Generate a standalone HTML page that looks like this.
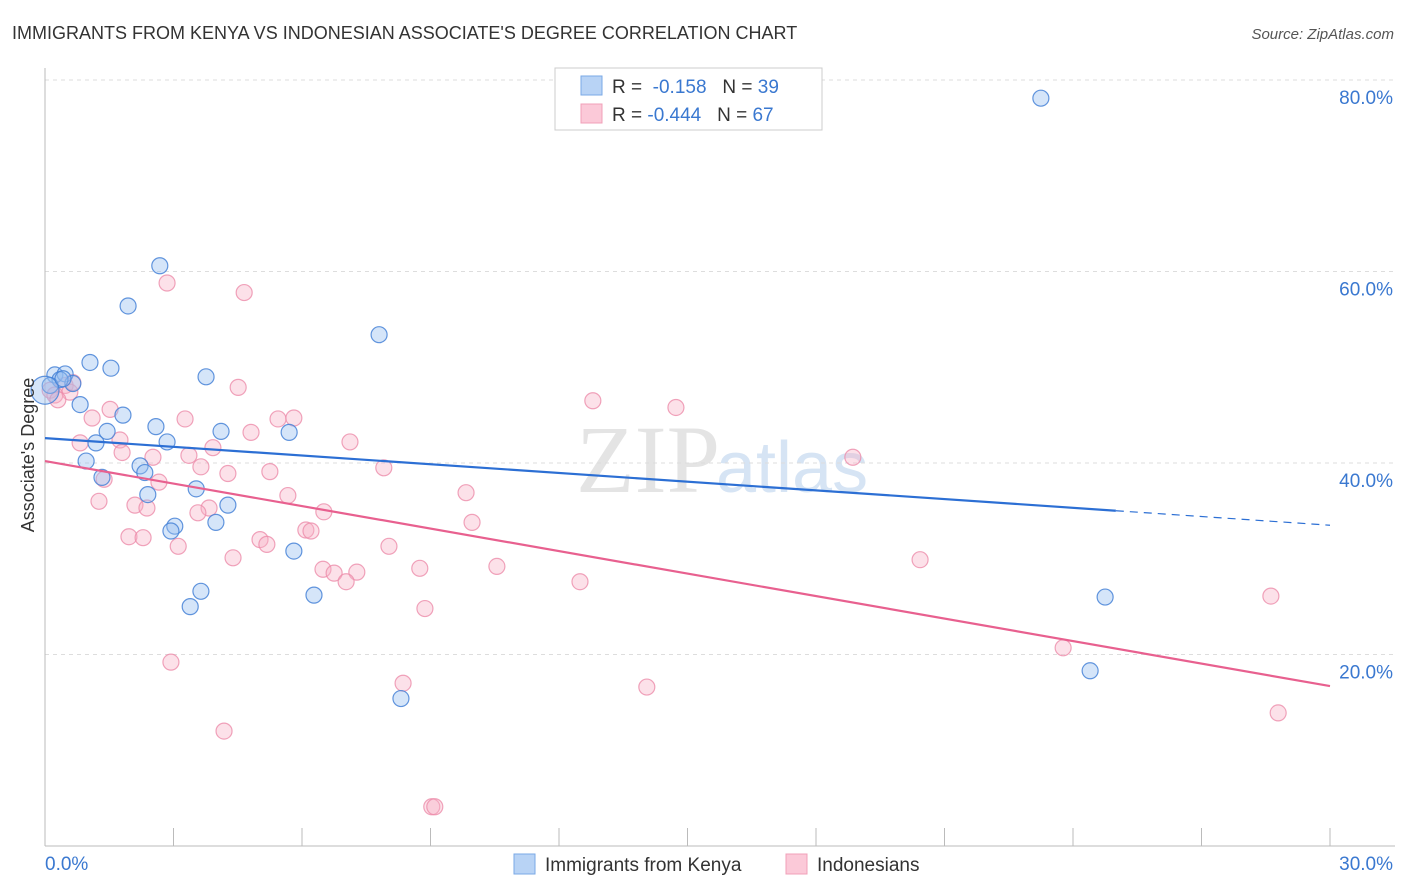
<!DOCTYPE html>
<html><head><meta charset="utf-8"><style>
body{margin:0;background:#fff;font-family:"Liberation Sans",sans-serif;}
</style></head><body>
<svg id="chart" width="1406" height="892" style="display:block">
<text x="12" y="39" font-size="18" fill="#333">IMMIGRANTS FROM KENYA VS INDONESIAN ASSOCIATE'S DEGREE CORRELATION CHART</text>
<text x="1394" y="39" font-size="15" fill="#555" font-style="italic" text-anchor="end">Source: ZipAtlas.com</text>
<text x="720" y="492" font-size="96" fill="#e4e4e4" font-family="Liberation Serif,serif" text-anchor="end">ZIP</text>
<text x="716" y="492" font-size="72" fill="#d6e4f4">atlas</text>
<g id="grid"></g><g id="axes"></g><g id="pts"></g><g id="trends"></g>
<text x="34" y="455" font-size="18" fill="#333" text-anchor="middle" transform="rotate(-90 34 455)">Associate's Degree</text>
<g>
<rect x="555" y="68" width="267" height="62" fill="#fff" stroke="#ccc"/>
<rect x="581" y="76" width="21" height="19" fill="#b8d3f5" stroke="#7aa8e6"/>
<rect x="581" y="104" width="21" height="19" fill="#fbc9d8" stroke="#f0a0b8"/>
<text x="612" y="93" font-size="19" fill="#333">R = <tspan fill="#3a78d0">&#160;-0.158</tspan>&#160;&#160;&#160;N = <tspan fill="#3a78d0">39</tspan></text>
<text x="612" y="121" font-size="19" fill="#333">R = <tspan fill="#3a78d0">-0.444</tspan>&#160;&#160;&#160;N = <tspan fill="#3a78d0">67</tspan></text>
</g>
<g>
<rect x="514" y="854" width="21" height="20" fill="#b8d3f5" stroke="#7aa8e6"/>
<text x="545" y="871" font-size="19" fill="#333">Immigrants from Kenya</text>
<rect x="786" y="854" width="21" height="20" fill="#fbc9d8" stroke="#f0a0b8"/>
<text x="817" y="871" font-size="19" fill="#333">Indonesians</text>
</g>
</svg>
<script>
const kenyaX=[23.25,2.68,1.94,7.80,1.05,1.54,3.76,0.23,0.47,0.65,0.35,0.82,1.82,2.59,1.45,4.11,5.70,2.85,1.19,0.96,2.22,2.33,1.33,3.53,2.40,4.27,3.03,3.99,2.94,5.81,3.64,6.28,3.39,24.75,24.40,8.31,0.12,0,0.42];
const kenyaY=[78.1,60.6,56.4,53.4,50.5,49.9,49.0,49.2,49.3,48.3,48.7,46.1,45.0,43.8,43.3,43.3,43.2,42.2,42.1,40.2,39.7,39.0,38.5,37.3,36.7,35.6,33.4,33.8,32.9,30.8,26.6,26.2,25.0,26.0,18.3,15.4,48.1,47.6,48.8];
const indoX=[2.85,4.65,12.79,14.73,4.51,0.47,0.58,0.12,0.23,1.52,1.10,3.27,5.44,5.81,1.75,0.82,3.92,4.81,7.12,3.36,1.80,2.52,3.64,4.27,5.25,7.91,18.86,2.66,1.38,9.83,5.67,1.26,2.10,2.38,3.83,3.57,6.51,9.97,6.09,6.21,1.96,2.29,5.02,5.18,3.11,8.03,4.39,20.43,10.55,8.75,6.49,6.75,7.28,7.03,12.49,28.62,8.87,23.77,2.94,8.36,14.05,28.79,4.18,9.03,9.10,0.65,0.30];
const indoY=[58.8,57.8,46.5,45.8,47.9,48.1,47.4,47.6,47.1,45.6,44.7,44.6,44.6,44.7,42.4,42.1,41.6,43.2,42.2,40.8,41.1,40.6,39.6,38.9,39.1,39.5,40.6,38.0,38.3,36.9,36.6,36.0,35.6,35.3,35.3,34.8,34.9,33.8,33.0,32.9,32.3,32.2,32.0,31.5,31.3,31.3,30.1,29.9,29.2,29.0,28.9,28.5,28.6,27.6,27.6,26.1,24.8,20.7,19.2,17.0,16.6,13.9,12.0,4.1,4.1,48.4,46.6];
const yTicks=[20,40,60,80];
const yTickLabels=["20.0%","40.0%","60.0%","80.0%"];
const xTickLabels=["0.0%","30.0%"];
const kenyaTrend=[42.6,33.5];
const kenyaSolidEnd=25.0;
const indoTrend=[40.2,16.7];
const NS="http://www.w3.org/2000/svg";
const sx=v=>45+v*1285/30, sy=v=>846-v*766/80;
function mk(tag,attrs,parent){const e=document.createElementNS(NS,tag);for(const k in attrs)e.setAttribute(k,attrs[k]);parent.appendChild(e);return e;}
const grid=document.getElementById('grid'),axes=document.getElementById('axes'),pts=document.getElementById('pts'),tr=document.getElementById('trends');
yTicks.forEach((t,i)=>{
 const l=mk('line',{x1:45,x2:1395,y1:sy(t),y2:sy(t),stroke:'#ddd','stroke-dasharray':'4,4'},grid);
 
 
 const tx=mk('text',{x:1393,y:sy(t)+24,'font-size':19,fill:'#3a78d0','text-anchor':'end'},axes);
 tx.textContent=yTickLabels[i];
 
 
});
const yax=mk('line',{x1:45,x2:45,y1:68,y2:846,stroke:'#bbb'},axes);


const xax=mk('line',{x1:45,x2:1395,y1:846,y2:846,stroke:'#bbb'},axes);


for(let i=0;i<=10;i++){const t=mk('line',{x1:sx(i*3),x2:sx(i*3),y1:828,y2:846,stroke:'#bbb'},axes);
 
 }
[[0,'start',45],[30,'end',1393]].forEach((d,i)=>{const t=mk('text',{x:d[2],y:870,'font-size':19,fill:'#3a78d0','text-anchor':d[1]},axes);t.textContent=xTickLabels[i];
 
 });
function dots(X,Y,fill,stroke,name){X.forEach((x,i)=>{const r=(x===0)?14:8;
 const c=mk('circle',{cx:sx(x),cy:sy(Y[i]),r:r,fill:fill,stroke:stroke,'stroke-width':1.2},pts);
 
 });}
dots(indoX,indoY,'rgba(248,175,198,0.38)','rgba(236,140,170,0.8)','point-indonesians');
dots(kenyaX,kenyaY,'rgba(150,190,240,0.4)','rgba(70,130,215,0.85)','point-kenya');
const ky=x=>kenyaTrend[0]+(kenyaTrend[1]-kenyaTrend[0])*x/30;
const l1=mk('line',{x1:sx(0),y1:sy(kenyaTrend[0]),x2:sx(kenyaSolidEnd),y2:sy(ky(kenyaSolidEnd)),stroke:'#2c6fd4','stroke-width':2.2},tr);


const l2=mk('line',{x1:sx(kenyaSolidEnd),y1:sy(ky(kenyaSolidEnd)),x2:sx(30),y2:sy(kenyaTrend[1]),stroke:'#2c6fd4','stroke-width':1.2,'stroke-dasharray':'8,6'},tr);


const l3=mk('line',{x1:sx(0),y1:sy(indoTrend[0]),x2:sx(30),y2:sy(indoTrend[1]),stroke:'#e8608f','stroke-width':2.2},tr);


</script>
</body></html>
